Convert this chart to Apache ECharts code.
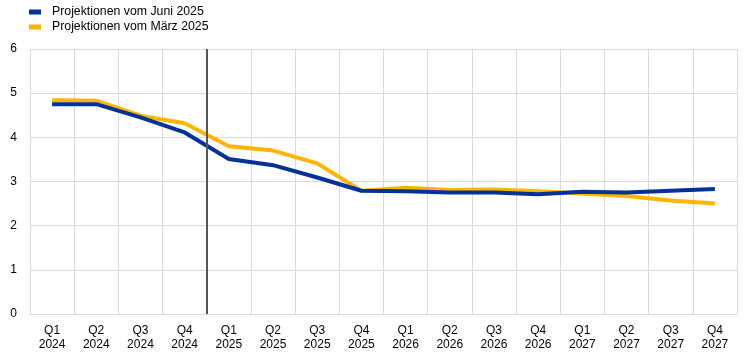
<!DOCTYPE html>
<html>
<head>
<meta charset="utf-8">
<script src="https://cdn.jsdelivr.net/npm/echarts@6/dist/echarts.min.js"></script>
<style>
  html, body { margin: 0; padding: 0; background: #fff; }
  #chart { width: 744px; height: 357px; }
</style>
</head>
<body>
<div id="chart"></div>
<script>
// quarters on the x axis
const quarters = ['Q1\n2024', 'Q2\n2024', 'Q3\n2024', 'Q4\n2024',
  'Q1\n2025', 'Q2\n2025', 'Q3\n2025', 'Q4\n2025',
  'Q1\n2026', 'Q2\n2026', 'Q3\n2026', 'Q4\n2026',
  'Q1\n2027', 'Q2\n2027', 'Q3\n2027', 'Q4\n2027'];

const juni2025 = [4.75, 4.75, 4.45, 4.11, 3.51, 3.37, 3.09, 2.79,
  2.78, 2.75, 2.75, 2.71, 2.77, 2.75, 2.79, 2.83];
const maerz2025 = [4.84, 4.83, 4.49, 4.32, 3.80, 3.70, 3.41, 2.79,
  2.86, 2.81, 2.82, 2.78, 2.73, 2.67, 2.57, 2.50];

// where the projection starts (boundary before Q1 2025)
const cutIndex = 4;

const chart = echarts.init(document.getElementById('chart'));
const font = 'Arial, "Liberation Sans", sans-serif';

chart.setOption({
  animation: false,
  textStyle: { fontFamily: font },
  grid: { left: 30, right: 7, top: 49, bottom: 43 },
  legend: {
    orient: 'vertical',
    left: 24,
    top: 1,
    itemGap: 3,
    itemWidth: 12,
    itemHeight: 5,
    icon: 'rect',
    textStyle: { fontSize: 12.3, color: '#000', fontFamily: font, padding: [0, 0, 0, 6] },
    data: ['Projektionen vom Juni 2025', 'Projektionen vom März 2025']
  },
  xAxis: [{
    type: 'category',
    data: quarters,
    boundaryGap: true,
    axisLine: { lineStyle: { color: '#d9d9d9' } },
    axisTick: { show: false },
    splitLine: { show: true, lineStyle: { color: '#d9d9d9' } },
    axisLabel: { color: '#000', fontSize: 12, lineHeight: 14, margin: 10, interval: 0 }
  }, {
    type: 'value',
    min: 0,
    max: quarters.length,
    show: false
  }],
  yAxis: {
    type: 'value',
    min: 0,
    max: 6,
    interval: 1,
    axisLine: { show: false },
    axisTick: { show: false },
    splitLine: { lineStyle: { color: '#d9d9d9' } },
    axisLabel: { color: '#000', fontSize: 12, margin: 13 }
  },
  series: [{
    name: 'Projektionen vom März 2025',
    type: 'line',
    data: maerz2025,
    symbol: 'none',
    lineStyle: { width: 4, color: '#ffb400' },
    itemStyle: { color: '#ffb400' },
    z: 2
  }, {
    name: 'Projektionen vom Juni 2025',
    type: 'line',
    data: juni2025,
    symbol: 'none',
    lineStyle: { width: 4, color: '#003299' },
    itemStyle: { color: '#003299' },
    z: 3
  }, {
    type: 'line',
    xAxisIndex: 1,
    data: [],
    markLine: {
      symbol: 'none',
      silent: true,
      label: { show: false },
      lineStyle: { color: '#555', width: 2, type: 'solid' },
      data: [{ xAxis: cutIndex }]
    }
  }]
});
</script>
</body>
</html>
